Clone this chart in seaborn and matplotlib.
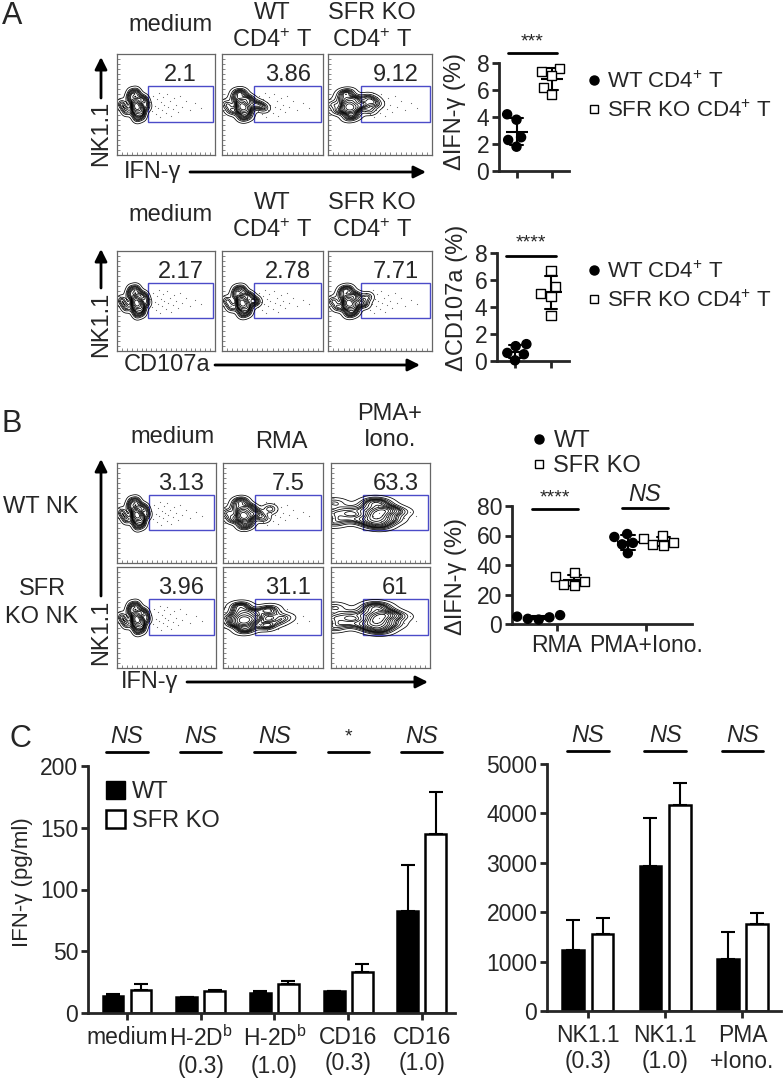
import matplotlib
matplotlib.use("Agg")
import matplotlib.pyplot as plt
import numpy as np
import pandas as pd
import seaborn as sns
from matplotlib.lines import Line2D
from matplotlib.markers import MarkerStyle
from matplotlib.patches import Patch, Rectangle
from matplotlib.ticker import AutoMinorLocator

W, H = 783, 1079

# ---------------- data ----------------
# A: flow gates (% positive NK cells)
a_cols = ["medium", "WT\nCD4$^{+}$ T", "SFR KO\nCD4$^{+}$ T"]
a_ifn_pct = ["2.1", "3.86", "9.12"]
a_cd107_pct = ["2.17", "2.78", "7.71"]

# A: delta % per mouse
a_ifn_wt = [4.2, 3.8, 2.5, 2.3, 1.8]
a_ifn_ko = [7.4, 7.6, 7.1, 6.2, 5.7]
a_cd107_wt = [1.25, 1.1, 0.6, 0.5, 0.05]
a_cd107_ko = [6.7, 5.5, 5.0, 4.8, 3.4]

# B: flow gates
b_cols = ["medium", "RMA", "PMA+\nIono."]
b_wt_pct = ["3.13", "7.5", "63.3"]
b_ko_pct = ["3.96", "31.1", "61"]

# B: delta IFN-g %
b_groups = ["RMA", "PMA+Iono."]
b_wt_rma = [6.0, 5.0, 4.5, 3.5, 3.0]
b_ko_rma = [35, 32, 29, 27, 26]
b_wt_pma = [61, 59, 55, 54, 48]
b_ko_pma = [60, 58, 55, 54, 53]

# C: IFN-g ELISA (mean, upper error)
c_left_cats = ["medium", "H-2D$^{\\mathrm{b}}$\n(0.3)", "H-2D$^{\\mathrm{b}}$\n(1.0)",
               "CD16\n(0.3)", "CD16\n(1.0)"]
c_left_wt = [13.8, 12.7, 16.5, 17.6, 82.7]
c_left_wt_err = [1.3, 0.3, 1.6, 0.3, 37]
c_left_ko = [18.9, 17.6, 23.2, 33.5, 145]
c_left_ko_err = [4.9, 0.8, 3.0, 6.2, 34]
c_left_sig = ["NS", "NS", "NS", "*", "NS"]

c_right_cats = ["NK1.1\n(0.3)", "NK1.1\n(1.0)", "PMA\n+Iono."]
c_right_wt = [1230, 2930, 1050]
c_right_wt_err = [620, 970, 540]
c_right_ko = [1550, 4160, 1770]
c_right_ko_err = [340, 460, 220]
c_right_sig = ["NS", "NS", "NS"]

# flow events (box units 0..1)
blob_x = [0.20, 0.17, 0.23, 0.13, 0.26, 0.20, 0.20, 0.09, 0.28, 0.15, 0.25, 0.18, 0.22, 0.05, 0.30,
          0.19, 0.21]
blob_y = [0.50, 0.43, 0.56, 0.56, 0.44, 0.37, 0.62, 0.44, 0.55, 0.61, 0.39, 0.52, 0.46, 0.50, 0.49,
          0.47, 0.48]
pma_x = [0.02, 0.03, 0.03, 0.10, 0.16, 0.24, 0.32, 0.38, 0.42, 0.46, 0.50, 0.54, 0.58,
         0.44, 0.50, 0.40, 0.55, 0.62, 0.68, 0.48, 0.45, 0.36, 0.52]
pma_y = [0.50, 0.40, 0.60, 0.45, 0.53, 0.44, 0.52, 0.58, 0.39, 0.49, 0.60, 0.41, 0.53,
         0.62, 0.37, 0.46, 0.55, 0.44, 0.51, 0.45, 0.53, 0.42, 0.49]
a_ifn_tail_x = [[], [0.36, 0.41], [0.35, 0.40, 0.46, 0.38, 0.43]]
a_ifn_tail_y = [[], [0.50, 0.47], [0.50, 0.44, 0.50, 0.57, 0.54]]
a_cd107_tail_x = [[], [0.34], [0.35, 0.38]]
a_cd107_tail_y = [[], [0.50], [0.47, 0.54]]
b_wt_tail_x = [[], [0.34, 0.40, 0.47], None]
b_wt_tail_y = [[], [0.50, 0.45, 0.54], None]
b_ko_tail_x = [[], [0.35, 0.40, 0.45, 0.50, 0.55, 0.62, 0.42, 0.48], None]
b_ko_tail_y = [[], [0.50, 0.57, 0.43, 0.54, 0.46, 0.50, 0.41, 0.59], None]
dots_x = [0.34, 0.36, 0.37, 0.39, 0.40, 0.41, 0.42, 0.43, 0.44, 0.45, 0.46, 0.47, 0.48, 0.50,
          0.51, 0.52, 0.54, 0.55, 0.57, 0.58, 0.60, 0.62, 0.64, 0.66, 0.70, 0.74, 0.80, 0.86]
dots_y = [0.52, 0.44, 0.58, 0.49, 0.41, 0.55, 0.47, 0.61, 0.38, 0.52, 0.45, 0.57, 0.50, 0.42,
          0.60, 0.48, 0.53, 0.39, 0.46, 0.56, 0.50, 0.43, 0.58, 0.48, 0.53, 0.45, 0.51, 0.47]

GATE = "#4b4bc8"
FS = 17
TFS = 16.5
LFS = 16

sns.set_style("ticks")
plt.rcParams["font.family"] = ["Liberation Sans", "DejaVu Sans"]
plt.rcParams["mathtext.fontset"] = "custom"
plt.rcParams["mathtext.rm"] = "Liberation Sans"
plt.rcParams["mathtext.it"] = "Liberation Sans:italic"
plt.rcParams["mathtext.bf"] = "Liberation Sans:bold"

_sq = MarkerStyle("s")
SQUARE = _sq.get_path().transformed(_sq.get_transform())


def box(x0, y0, x1, y1):
    return [x0 / W, 1 - y1 / H, (x1 - x0) / W, (y1 - y0) / H]


def flow_panel(ax, xs, ys, pct):
    sns.kdeplot(x=xs, y=ys, ax=ax, levels=14, thresh=0.03, color="black",
                linewidths=0.55, bw_adjust=0.75)
    ax.scatter(dots_x, dots_y, s=0.7, color="0.4", linewidths=0)
    ax.add_patch(Rectangle((0.32, 0.33), 0.66, 0.35, fill=False, ec=GATE, lw=1))
    ax.text(0.65, 0.79, pct, ha="center", va="center", fontsize=FS)
    ax.set_xlim(0, 1)
    ax.set_ylim(0, 1)
    ax.set_xticks([0.25, 0.5, 0.75])
    ax.set_yticks([0.25, 0.5, 0.75])
    ax.xaxis.set_minor_locator(AutoMinorLocator(5))
    ax.yaxis.set_minor_locator(AutoMinorLocator(5))
    ax.tick_params(which="both", length=2, width=0.6, color="0.45",
                   labelleft=False, labelbottom=False, direction="in")
    ax.set_xlabel("")
    ax.set_ylabel("")
    for s in ax.spines.values():
        s.set_color("0.4")
        s.set_linewidth(0.9)


def style_axis(ax):
    sns.despine(ax=ax)
    for s in ["left", "bottom"]:
        ax.spines[s].set_linewidth(2)
    ax.tick_params(length=5, width=2, labelsize=TFS, pad=2)
    ax.set_xlabel("")
    ax.set_ylabel("")


def open_squares(ax):
    # white (SFR KO) swarm points are drawn as open squares
    for coll in ax.collections:
        fc = coll.get_facecolor()
        if len(fc) and fc[0][0] > 0.9:
            coll.set_paths([SQUARE])


def dot_plot(ax, wt, ko, ymax):
    order = ["WT", "KO"]
    df = pd.DataFrame({"grp": ["WT"] * len(wt) + ["KO"] * len(ko), "val": wt + ko})
    sns.swarmplot(data=df, x="grp", y="val", hue="grp", order=order, hue_order=order,
                  palette={"WT": "black", "KO": "white"}, edgecolor="black", linewidth=1,
                  size=6.5, legend=False, ax=ax, clip_on=False)
    open_squares(ax)
    sns.pointplot(data=df, x="grp", y="val", order=order, errorbar="sd", color="black",
                  marker="_", markersize=16, markeredgewidth=1.5, linestyle="none",
                  capsize=0.35, err_kws={"linewidth": 1.5}, ax=ax)
    ax.set_xlim(-0.5, 1.5)
    ax.set_ylim(0, ymax)
    ax.set_yticks(np.arange(0, ymax + 1, 2))
    ax.set_xticks([0, 1], ["", ""])
    style_axis(ax)


def bar_plot(ax, cats, wt, wt_err, ko, ko_err):
    df = pd.DataFrame({"cat": cats * 2, "grp": ["WT"] * len(cats) + ["SFR KO"] * len(cats),
                       "val": wt + ko})
    sns.barplot(data=df, x="cat", y="val", hue="grp", hue_order=["WT", "SFR KO"],
                palette={"WT": "black", "SFR KO": "white"}, edgecolor="black",
                linewidth=1.8, width=0.76, gap=0.26, errorbar=None, legend=False, ax=ax)
    errs = wt_err + ko_err
    bars = [p for p in ax.patches]
    xs = [p.get_x() + p.get_width() / 2 for p in bars]
    hs = [p.get_height() for p in bars]
    ax.errorbar(xs, hs, yerr=[np.zeros(len(errs)), errs], fmt="none", ecolor="black",
                elinewidth=1.5, capsize=5, capthick=1.5, zorder=0)
    style_axis(ax)
    ax.tick_params(axis="x", pad=4)


def sig(ax, x0, x1, y, ty, label, italic=True, lw=2):
    ax.plot([x0, x1], [y, y], color="black", lw=lw, clip_on=False)
    ax.text((x0 + x1) / 2, ty, label, ha="center", va="center", fontsize=FS if italic else 14,
            fontstyle="italic" if italic else "normal", clip_on=False)


fig = plt.figure(figsize=(W / 100, H / 100), dpi=100)

# ---------- A: flow ----------
a_x = [(117, 215), (222, 323), (328, 432)]
for i in range(3):
    ax = fig.add_axes(box(a_x[i][0], 54, a_x[i][1], 155))
    flow_panel(ax, blob_x + a_ifn_tail_x[i], blob_y + a_ifn_tail_y[i], a_ifn_pct[i])
    ax = fig.add_axes(box(a_x[i][0], 251, a_x[i][1], 351))
    flow_panel(ax, blob_x + a_cd107_tail_x[i], blob_y + a_cd107_tail_y[i], a_cd107_pct[i])

# ---------- B: flow ----------
b_x = [(117, 216), (223, 323), (331, 430)]
for i in range(3):
    ax = fig.add_axes(box(b_x[i][0], 463, b_x[i][1], 563))
    if b_wt_tail_x[i] is None:
        flow_panel(ax, pma_x, pma_y, b_wt_pct[i])
    else:
        flow_panel(ax, blob_x + b_wt_tail_x[i], blob_y + b_wt_tail_y[i], b_wt_pct[i])
    ax = fig.add_axes(box(b_x[i][0], 567, b_x[i][1], 668))
    if b_ko_tail_x[i] is None:
        flow_panel(ax, pma_x, pma_y, b_ko_pct[i])
    else:
        flow_panel(ax, blob_x + b_ko_tail_x[i], blob_y + b_ko_tail_y[i], b_ko_pct[i])

# ---------- A: dot plots ----------
ax = fig.add_axes(box(499, 63, 569, 171))
dot_plot(ax, a_ifn_wt, a_ifn_ko, 8)
ax.set_ylabel("ΔIFN-γ (%)", fontsize=FS)
ax.yaxis.set_label_coords(-0.47, 0.55)
sig(ax, -0.25, 1.15, 8.75, 9.55, "***", italic=False)

ax = fig.add_axes(box(497, 253, 569, 361))
dot_plot(ax, a_cd107_wt, a_cd107_ko, 8)
ax.set_ylabel("ΔCD107a (%)", fontsize=FS)
ax.yaxis.set_label_coords(-0.40, 0.58)
sig(ax, -0.25, 1.15, 7.8, 8.75, "****", italic=False)

leg_a = [Line2D([], [], marker="o", color="black", ls="none", markersize=6.5),
         Line2D([], [], marker="s", mfc="white", mec="black", ls="none", markersize=6)]
for ytop in [60, 250]:
    fig.legend(leg_a, ["WT CD4$^{+}$ T", "SFR KO CD4$^{+}$ T"], loc="upper left",
               bbox_to_anchor=(574 / W, 1 - ytop / H), frameon=False, fontsize=LFS,
               handletextpad=0.2, labelspacing=0.35, borderpad=0, handlelength=0.8)

# ---------- B: dot plot ----------
ax = fig.add_axes(box(512, 506, 692, 624))
hue_order = ["WT", "SFR KO"]
df_b = pd.DataFrame({
    "cond": ["RMA"] * 10 + ["PMA+Iono."] * 10,
    "grp": ["WT"] * 5 + ["SFR KO"] * 5 + ["WT"] * 5 + ["SFR KO"] * 5,
    "val": b_wt_rma + b_ko_rma + b_wt_pma + b_ko_pma})
sns.swarmplot(data=df_b, x="cond", y="val", hue="grp", order=b_groups, hue_order=hue_order,
              dodge=True, palette={"WT": "black", "SFR KO": "white"}, edgecolor="black",
              linewidth=1, size=6.5, legend=False, ax=ax, clip_on=False)
open_squares(ax)
sns.pointplot(data=df_b, x="cond", y="val", hue="grp", order=b_groups, hue_order=hue_order,
              dodge=0.4, errorbar="sd", palette={"WT": "black", "SFR KO": "black"},
              marker="_", markersize=16, markeredgewidth=1.5, linestyle="none",
              capsize=0.15, err_kws={"linewidth": 1.5}, legend=False, ax=ax)
ax.set_xlim(-0.5, 1.52)
ax.set_ylim(0, 80)
ax.set_yticks([0, 20, 40, 60, 80])
style_axis(ax)
ax.set_ylabel("ΔIFN-γ (%)", fontsize=FS)
ax.yaxis.set_label_coords(-0.25, 0.4)
sig(ax, -0.28, 0.24, 78, 85.5, "****", italic=False)
sig(ax, 0.73, 1.25, 78.5, 88, "NS")
fig.legend(leg_a, ["WT", "SFR KO"], loc="upper left", bbox_to_anchor=(518 / W, 1 - 418 / H),
           frameon=False, fontsize=FS, handletextpad=0.2, labelspacing=0.15, borderpad=0,
           handlelength=0.8)

# ---------- C: bars ----------
ax = fig.add_axes(box(88, 766, 455, 1013))
bar_plot(ax, c_left_cats, c_left_wt, c_left_wt_err, c_left_ko, c_left_ko_err)
ax.set_xlim(-0.53, 4.45)
ax.set_ylim(0, 200)
ax.set_yticks([0, 50, 100, 150, 200])
ax.set_ylabel("IFN-γ (pg/ml)", fontsize=16)
ax.yaxis.set_label_coords(-0.15, 0.53)
for i, s in enumerate(c_left_sig):
    sig(ax, i - 0.28, i + 0.28, 211, 223.5, s, italic=(s == "NS"))
leg_c = [Patch(facecolor="black", edgecolor="black"),
         Patch(facecolor="white", edgecolor="black", linewidth=1.8)]
ax.legend(leg_c, ["WT", "SFR KO"], loc="upper left", bbox_to_anchor=(0.05, 0.94),
          frameon=False, fontsize=FS, handlelength=0.8, handleheight=0.8,
          handletextpad=0.3, labelspacing=0.3, borderpad=0, borderaxespad=0)

ax = fig.add_axes(box(547, 764, 781, 1011))
bar_plot(ax, c_right_cats, c_right_wt, c_right_wt_err, c_right_ko, c_right_ko_err)
ax.set_xlim(-0.53, 2.5)
ax.set_ylim(0, 5000)
ax.set_yticks([0, 1000, 2000, 3000, 4000, 5000])
for i, s in enumerate(c_right_sig):
    sig(ax, i - 0.27, i + 0.27, 5260, 5570, s)

# ---------- overlay labels / arrows ----------
ov = fig.add_axes([0, 0, 1, 1])
ov.set_xlim(0, W)
ov.set_ylim(H, 0)
ov.axis("off")


def label(x, y, s, size=FS, **kw):
    ov.text(x, y, s, ha="center", va="center", fontsize=size, **kw)


def arrow(x0, y0, x1, y1):
    ov.annotate("", xy=(x1, y1), xytext=(x0, y0),
                arrowprops=dict(arrowstyle="-|>", lw=2, color="black", mutation_scale=18,
                                shrinkA=0, shrinkB=0))


label(12, 16, "A", 22)
label(12, 424, "B", 22)
label(20, 739, "C", 22)

for yo in [0, 190]:
    label(170, 25 + yo, a_cols[0])
    label(272, 27 + yo, a_cols[1], linespacing=1.25)
    label(372, 27 + yo, a_cols[2], linespacing=1.25)

label(101, 133, "NK1.1", rotation=90)
arrow(101, 98, 101, 57)
label(153, 172, "IFN-γ")
arrow(190, 172, 426, 172)

label(101, 324, "NK1.1", rotation=90)
arrow(101, 288, 101, 249)
label(167, 365, "CD107a")
arrow(215, 365, 420, 365)

label(172, 437, b_cols[0])
label(281, 442, b_cols[1])
label(390, 427, b_cols[2], linespacing=1.25)
label(41, 507, "WT NK")
label(42, 603, "SFR\nKO NK", linespacing=1.4)
label(101, 632, "NK1.1", rotation=90)
arrow(101, 596, 101, 459)
label(150, 682, "IFN-γ")
arrow(187, 682, 428, 682)

fig.savefig("out.png", dpi=100)
